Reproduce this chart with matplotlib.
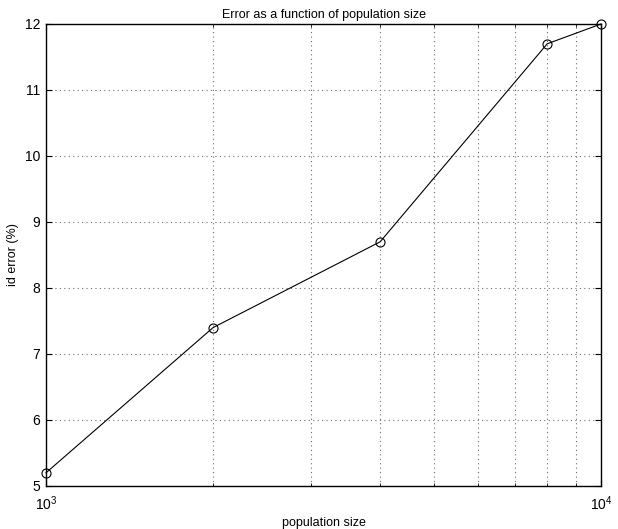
import numpy as np
import matplotlib
matplotlib.use('Agg')
import matplotlib.pyplot as plt
from matplotlib.ticker import LogLocator, NullFormatter

plt.rcParams['font.family'] = ['Liberation Sans', 'DejaVu Sans']
plt.rcParams['mathtext.fontset'] = 'custom'
plt.rcParams['mathtext.rm'] = 'Liberation Sans'

# data
pop_size = [1000, 2000, 4000, 8000, 10000]
id_error = [5.2, 7.4, 8.7, 11.7, 12.0]
y_ticks = [5, 6, 7, 8, 9, 10, 11, 12]

fig = plt.figure(figsize=(6.18, 5.29), dpi=100)
ax = fig.add_axes([46/618, 1 - 486/529, 555/618, 462/529])

ax.plot(pop_size, id_error, color='black', linewidth=0.8, clip_on=False, zorder=5,
        marker='o', markersize=6.5, markerfacecolor='none', markeredgewidth=0.8)

ax.set_xscale('log')
ax.set_xlim(1000, 10000)
ax.set_ylim(5, 12)
ax.set_yticks(y_ticks)
ax.xaxis.set_major_locator(LogLocator(base=10))
ax.xaxis.set_minor_locator(LogLocator(base=10, subs=np.arange(2, 10)))
ax.xaxis.set_minor_formatter(NullFormatter())

ax.grid(True, which='both', axis='x', linestyle=(0, (1, 3)), color='#707070', linewidth=0.8)
ax.grid(True, which='major', axis='y', linestyle=(0, (1, 3)), color='#707070', linewidth=0.8)

ax.tick_params(which='both', direction='in', top=True, right=True, labelsize=10)
ax.tick_params(which='major', length=4)
ax.tick_params(which='minor', length=2.5)
ax.tick_params(axis='x', which='major', pad=6)
ax.tick_params(axis='y', which='major', pad=4)
for s in ax.spines.values():
    s.set_linewidth(1.0)

ax.set_title('Error as a function of population size', fontsize=9, pad=4)
ax.set_xlabel('population size', fontsize=9, labelpad=3)
ax.set_ylabel('id error (%)', fontsize=9)

fig.savefig('out.png', dpi=100)
